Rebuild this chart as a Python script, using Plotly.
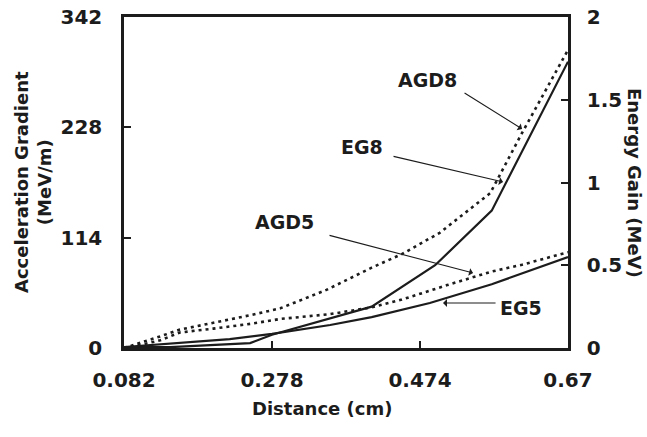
import plotly.graph_objects as go

# ---- data ----
agd8_x = [0.082, 0.103, 0.130, 0.156, 0.200, 0.250, 0.289, 0.350, 0.410, 0.450, 0.500, 0.567, 0.609, 0.670]
agd8_y = [0, 5, 12, 19, 26, 34, 41, 60, 83, 97, 119, 160, 222, 308]

agd5_x = [0.082, 0.103, 0.130, 0.156, 0.200, 0.250, 0.289, 0.355, 0.410, 0.450, 0.510, 0.569, 0.609, 0.670]
agd5_y = [0, 3, 8, 16, 20, 25, 30, 35, 42, 50, 65, 79, 86, 99]

eg8_x = [0.082, 0.143, 0.249, 0.278, 0.410, 0.494, 0.569, 0.670]
eg8_y = [0.005, 0.005, 0.03, 0.08, 0.25, 0.50, 0.83, 1.73]

eg5_x = [0.082, 0.156, 0.222, 0.278, 0.355, 0.410, 0.487, 0.569, 0.670]
eg5_y = [0.006, 0.03, 0.054, 0.085, 0.139, 0.187, 0.272, 0.385, 0.55]

x_ticks = [0.082, 0.278, 0.474, 0.67]
x_ticktext = ["0.082", "0.278", "0.474", "0.67"]
yl_ticks = [0, 114, 228, 342]
yr_ticks = [0, 0.5, 1, 1.5, 2]
yr_ticktext = ["0", "0.5", "1", "1.5", "2"]

FONT = "DejaVu Sans"
INK = "#1c1c1c"
TICKF = dict(family=FONT, size=20, color=INK, weight="bold")
LABF = dict(family=FONT, size=19, color=INK, weight="bold")
TITLE = dict(family=FONT, size=18, color=INK, weight="bold")

fig = go.Figure()
fig.add_trace(go.Scatter(x=agd8_x, y=agd8_y, mode="lines", name="AGD8",
                         line=dict(color=INK, width=2.6, dash="3px,4px")))
fig.add_trace(go.Scatter(x=agd5_x, y=agd5_y, mode="lines", name="AGD5",
                         line=dict(color=INK, width=2.6, dash="3px,4px")))
fig.add_trace(go.Scatter(x=eg8_x, y=eg8_y, mode="lines", name="EG8", yaxis="y2",
                         line=dict(color=INK, width=2.2)))
fig.add_trace(go.Scatter(x=eg5_x, y=eg5_y, mode="lines", name="EG5", yaxis="y2",
                         line=dict(color=INK, width=2.2)))

axis_common = dict(showgrid=False, zeroline=False, showline=True, linecolor=INK,
                   linewidth=2.5, ticks="inside", ticklen=7, tickwidth=2,
                   tickcolor=INK, tickfont=TICKF, automargin=False)

fig.update_layout(
    width=647, height=437,
    margin=dict(l=124, r=79, t=17, b=89),
    paper_bgcolor="white", plot_bgcolor="white",
    showlegend=False,
    xaxis=dict(range=[0.082, 0.67], tickvals=x_ticks, ticktext=x_ticktext,
               mirror=True, ticklabelstandoff=12, **axis_common),
    yaxis=dict(range=[0, 342], tickvals=yl_ticks, ticklabelstandoff=15, **axis_common),
    yaxis2=dict(range=[0, 2], tickvals=yr_ticks, ticktext=yr_ticktext, overlaying="y",
                side="right", ticklabelstandoff=12, **axis_common),
)

def px2x(px):
    return 0.082 + (px - 124) / 755.0

def py2y(py):
    return (348 - py) / (331.0 / 342.0)

arrows = [
    ((463, 92), (522, 129)),
    ((392, 156), (503, 182)),
    ((328, 235), (473, 273)),
    ((497, 303), (443, 303)),
]
for (tx, ty), (hx, hy) in arrows:
    fig.add_annotation(x=px2x(hx), y=py2y(hy), ax=px2x(tx), ay=py2y(ty),
                       xref="x", yref="y", axref="x", ayref="y", text="",
                       showarrow=True, arrowhead=1, arrowsize=1.2, arrowwidth=1.1,
                       arrowcolor=INK)

labels = [("AGD8", 427, 80), ("EG8", 362, 147), ("AGD5", 284, 222), ("EG5", 521, 308)]
for txt, lx, ly in labels:
    fig.add_annotation(x=px2x(lx), y=py2y(ly), xref="x", yref="y", text=txt,
                       xanchor="center", yanchor="middle", showarrow=False, font=LABF)

fig.add_annotation(x=(33 - 124) / 444.0, y=(348 - 182) / 331.0, xref="paper", yref="paper",
                   text="Acceleration Gradient<br>(MeV/m)", textangle=-90, showarrow=False,
                   xanchor="center", yanchor="middle", font=TITLE)
fig.add_annotation(x=(635 - 124) / 444.0, y=(348 - 183) / 331.0, xref="paper", yref="paper",
                   text="Energy Gain (MeV)", textangle=90, showarrow=False,
                   xanchor="center", yanchor="middle", font=TITLE)
fig.add_annotation(x=(322 - 124) / 444.0, y=(348 - 409) / 331.0, xref="paper", yref="paper",
                   text="Distance (cm)", showarrow=False,
                   xanchor="center", yanchor="middle", font=TITLE)

fig.write_html("out.html", config={"displayModeBar": False},
               post_script="document.body.style.margin='0';")
